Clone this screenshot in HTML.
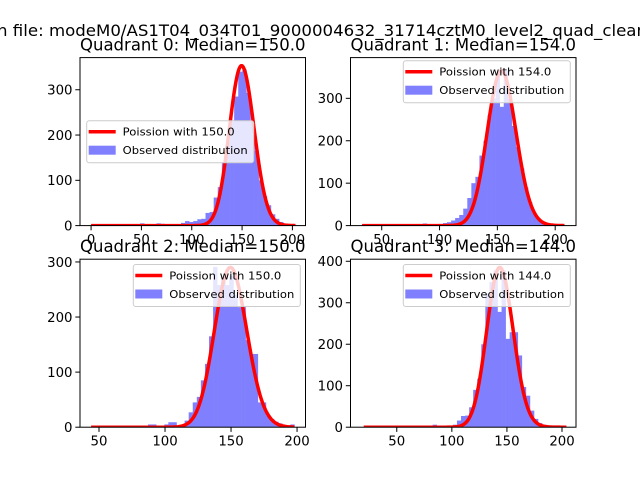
<!DOCTYPE html>
<html><head><meta charset="utf-8"><style>
html,body{margin:0;padding:0;background:#fff;}
svg{display:block;font-family:"DejaVu Sans","Liberation Sans",sans-serif;}
</style></head><body>
<svg id="fig" width="640" height="480" viewBox="0 0 640 480" xmlns="http://www.w3.org/2000/svg">
<rect x="0" y="0" width="640" height="480" fill="#fff"/>
<text x="-3" y="36" font-size="16" fill="#000" textLength="650" lengthAdjust="spacingAndGlyphs">n file: modeM0/AS1T04_034T01_9000004632_31714cztM0_level2_quad_clean</text>
</svg>
<script>
// ---- data ----
const q0Counts=[0,0,0,0,1,0,0,0,2,1,1,3,5,2,3,2,5,4,2,3,2,3,6,10,8,10,14,15,28,30,62,85,140,185,230,285,340,345,293,230,165,100,65,45,25,15,8,3,1,1];
const q1Counts=[1,0,0,0,0,0,0,0,0,0,0,0,0,0,0,5,2,2,3,4,6,8,12,18,25,40,65,100,115,165,200,260,300,360,280,365,300,235,185,135,90,55,30,18,10,5,3,2,1,1];
const q2Counts=[1,0,0,0,0,0,0,0,0,0,0,0,0,0,5,5,0,0,5,9,9,2,3,12,27,45,55,85,115,165,291,258,273,258,275,240,218,218,158,133,133,45,45,21,15,10,7,3,2,5];
const q3Counts=[1,0,0,0,0,0,0,0,0,0,0,0,0,0,0,0,0,6,3,0,0,4,6,16,27,28,48,90,117,200,322,350,378,278,378,213,229,229,173,97,76,40,20,10,6,3,1,1,0,1];
const dataMin=[0,33,44,20];
const dataMax=[203,208,198,204];
const poissonMu=[150.0,154.0,150.0,144.0];
const curvePeak=[353,365,290,385];
const titles=["Quadrant 0: Median=150.0","Quadrant 1: Median=154.0","Quadrant 2: Median=150.0","Quadrant 3: Median=144.0"];
const xTicks0=[0,50,100,150,200];
const xTicks1=[50,100,150,200];
const xTicks2=[50,100,150,200];
const xTicks3=[50,100,150,200];
const yTicks0=[0,100,200,300];
const yTicks1=[0,100,200,300];
const yTicks2=[0,100,200,300];
const yTicks3=[0,100,200,300,400];

// ---- layout ----
const NS="http://www.w3.org/2000/svg";
const svg=document.getElementById('fig');
const panels=[
 {x0:80,x1:305.5,y0:57.6,y1:225.6,xmin:-11,xmax:213,ymax:371,counts:q0Counts,xt:xTicks0,yt:yTicks0,leg:[86.7,120.7]},
 {x0:350.5,x1:576,y0:57.6,y1:225.6,xmin:23,xmax:218,ymax:396,counts:q1Counts,xt:xTicks1,yt:yTicks1,leg:[403.3,60.7]},
 {x0:80,x1:305.5,y0:259.2,y1:427.2,xmin:35.6,xmax:206.4,ymax:305,counts:q2Counts,xt:xTicks2,yt:yTicks2,leg:[133.3,264.5]},
 {x0:350.5,x1:576,y0:259.2,y1:427.2,xmin:8,xmax:212.7,ymax:405,counts:q3Counts,xt:xTicks3,yt:yTicks3,leg:[403.3,264.5]}
];
function mk(tag,attrs,parent){const e=document.createElementNS(NS,tag);for(const k in attrs)e.setAttribute(k,attrs[k]);(parent||svg).appendChild(e);return e;}
function logPois(k,mu){let s=0;for(let i=2;i<=k;i++)s+=Math.log(i);return k*Math.log(mu)-mu-s;}

panels.forEach((p,q)=>{
 const sx=v=>p.x0+(v-p.xmin)/(p.xmax-p.xmin)*(p.x1-p.x0);
 const sy=v=>p.y1-v/p.ymax*(p.y1-p.y0);
 const g=mk('g',{});
 
 
 const clipId='clip'+q;
 const cp=mk('clipPath',{id:clipId},g);
 mk('rect',{x:p.x0,y:p.y0,width:p.x1-p.x0,height:p.y1-p.y0},cp);
 const plot=mk('g',{'clip-path':'url(#'+clipId+')'},g);
 const n=p.counts.length, w=(dataMax[q]-dataMin[q])/n;
 p.counts.forEach((c,i)=>{
  const a=dataMin[q]+i*w, b=a+w;
  const r=mk('rect',{x:sx(a),y:sy(c),width:sx(b)-sx(a)+0.3,height:Math.max(0,sy(0)-sy(c)),fill:'#8080ff'},plot);
  
  
 });
 const mu=poissonMu[q], ref=logPois(Math.floor(mu),mu);
 let d='';
 for(let k=dataMin[q];k<=dataMax[q];k++){
  const v=curvePeak[q]*Math.exp(logPois(k,mu)-ref);
  d+=(d?'L':'M')+sx(k).toFixed(2)+','+sy(v).toFixed(2);
 }
 const pl=mk('path',{d:d,fill:'none',stroke:'#ff0000','stroke-width':3.5,'stroke-linejoin':'round'},plot);
 
 
 const fr=mk('rect',{x:p.x0,y:p.y0,width:p.x1-p.x0,height:p.y1-p.y0,fill:'none',stroke:'#000','stroke-width':1},g);
 
 
 p.xt.forEach(t=>{
  const x=sx(t);
  mk('line',{x1:x,x2:x,y1:p.y1,y2:p.y1+4.7,stroke:'#000','stroke-width':1},g);
  const tx=mk('text',{x:x,y:p.y1+18.5,'font-size':13.3,'text-anchor':'middle',fill:'#000'},g);
  tx.textContent=t;
  
  
 });
 p.yt.forEach(t=>{
  const y=sy(t);
  mk('line',{x1:p.x0-4.7,x2:p.x0,y1:y,y2:y,stroke:'#000','stroke-width':1},g);
  const tx=mk('text',{x:p.x0-7.5,y:y+4.8,'font-size':13.3,'text-anchor':'end',fill:'#000'},g);
  tx.textContent=t;
  
  
 });
 const tt=mk('text',{x:(p.x0+p.x1)/2,y:p.y0-7,'font-size':16.5,'text-anchor':'middle',fill:'#000'},g);
 tt.textContent=titles[q];
 
 
 const lx=p.leg[0], ly=p.leg[1];
 const lg=mk('g',{},g);
 
 
 mk('rect',{x:lx,y:ly,width:167,height:42,rx:2.5,fill:'#fff','fill-opacity':0.8,stroke:'#cccccc','stroke-width':1},lg);
 mk('line',{x1:lx+2,x2:lx+29,y1:ly+11,y2:ly+11,stroke:'#ff0000','stroke-width':3.5},lg);
 const t1=mk('text',{x:lx+36,y:ly+15,'font-size':11,fill:'#000',textLength:112,lengthAdjust:'spacingAndGlyphs'},lg);
 t1.textContent='Poission with '+mu.toFixed(1);
 
 
 mk('rect',{x:lx+2,y:ly+25,width:27,height:9,fill:'#8080ff'},lg);
 const t2=mk('text',{x:lx+36,y:ly+33.5,'font-size':11,fill:'#000',textLength:125,lengthAdjust:'spacingAndGlyphs'},lg);
 t2.textContent='Observed distribution';
 
 
});
</script>
</body></html>
